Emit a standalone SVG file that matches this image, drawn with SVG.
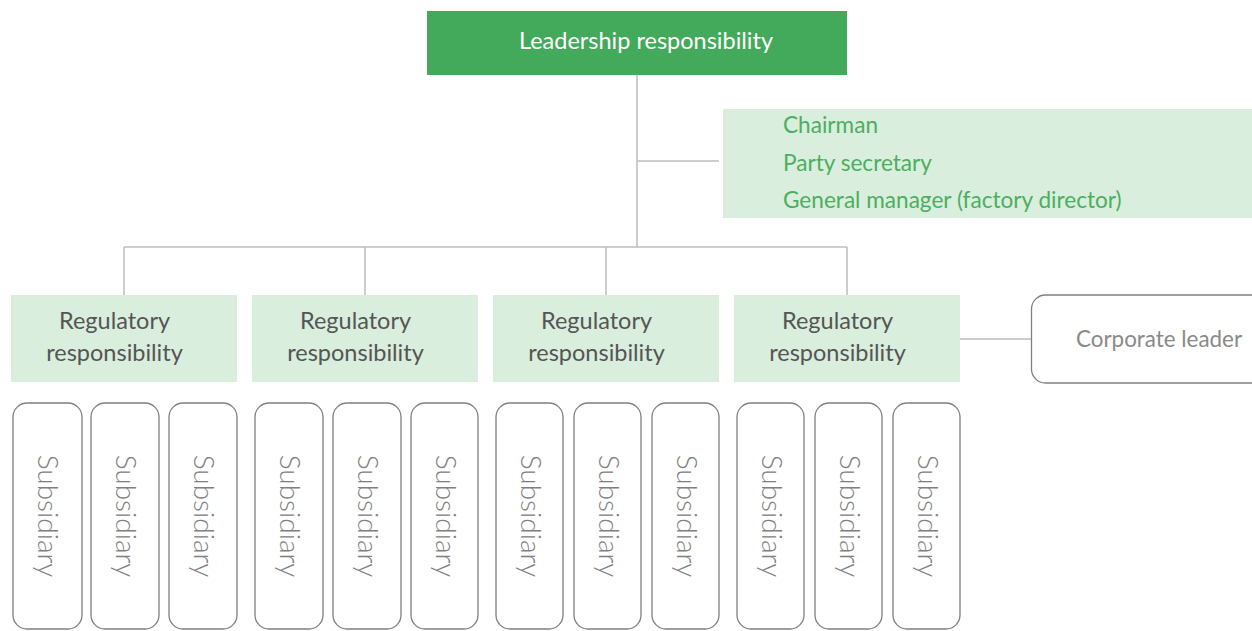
<svg xmlns="http://www.w3.org/2000/svg" width="1252" height="631" viewBox="0 0 1252 631">
<style>
text{font-family:"Source Sans Pro","Lato","Noto Sans",sans-serif}
.line{stroke:#bdbdbd;stroke-width:1.5;fill:none}
.reg{fill:#d9eedd}
.regt{fill:#555;font-size:23.5px;text-anchor:middle}
.sub{fill:#fff;stroke:#808080;stroke-width:1.3}
.subt{fill:#808080;font-size:28px;font-weight:300;text-anchor:middle}
.info{fill:#4cae5f;font-size:22.6px}
</style>
<rect width="1252" height="631" fill="#fff"/>
<g id="connectors">
<line class="line" x1="637" y1="75" x2="637" y2="247"/>
<line class="line" x1="637" y1="161" x2="719" y2="161"/>
<line class="line" x1="124" y1="247" x2="847" y2="247"/>
<line class="line" x1="124" y1="247" x2="124" y2="295"/>
<line class="line" x1="365" y1="247" x2="365" y2="295"/>
<line class="line" x1="606" y1="247" x2="606" y2="295"/>
<line class="line" x1="847" y1="247" x2="847" y2="295"/>
<line class="line" x1="960" y1="339" x2="1031" y2="339"/>
</g>
<g id="leadership">
<rect x="427" y="11" width="420" height="64" fill="#43a95b"/>
<text x="646" y="49" fill="#fff" font-size="23.5" text-anchor="middle">Leadership responsibility</text>
</g>
<g id="roles">
<rect x="723" y="109" width="529" height="109" fill="#d9eedd"/>
<text class="info" x="783" y="133">Chairman</text>
<text class="info" x="783" y="171">Party secretary</text>
<text class="info" x="783" y="208">General manager (factory director)</text>
</g>
<g id="reg1"><rect class="reg" x="11" y="295" width="226" height="87"/><text class="regt" x="114.5" y="329">Regulatory</text><text class="regt" x="114.5" y="361">responsibility</text></g>
<g id="reg2"><rect class="reg" x="252" y="295" width="226" height="87"/><text class="regt" x="355.5" y="329">Regulatory</text><text class="regt" x="355.5" y="361">responsibility</text></g>
<g id="reg3"><rect class="reg" x="493" y="295" width="226" height="87"/><text class="regt" x="596.5" y="329">Regulatory</text><text class="regt" x="596.5" y="361">responsibility</text></g>
<g id="reg4"><rect class="reg" x="734" y="295" width="226" height="87"/><text class="regt" x="837.5" y="329">Regulatory</text><text class="regt" x="837.5" y="361">responsibility</text></g>
<g id="corporate-leader">
<rect x="1031.5" y="295" width="240" height="88" rx="14" fill="#fff" stroke="#808080" stroke-width="1.3"/>
<text x="1076" y="347" fill="#8a8a8a" font-size="22.4">Corporate leader</text>
</g>
<g id="sub1"><rect class="sub" x="13" y="403" width="69" height="226" rx="14"/><text class="subt" transform="translate(38,516) rotate(90)">Subsidiary</text></g>
<g id="sub2"><rect class="sub" x="91" y="403" width="68" height="226" rx="14"/><text class="subt" transform="translate(116,516) rotate(90)">Subsidiary</text></g>
<g id="sub3"><rect class="sub" x="169" y="403" width="68" height="226" rx="14"/><text class="subt" transform="translate(194,516) rotate(90)">Subsidiary</text></g>
<g id="sub4"><rect class="sub" x="255" y="403" width="68" height="226" rx="14"/><text class="subt" transform="translate(280,516) rotate(90)">Subsidiary</text></g>
<g id="sub5"><rect class="sub" x="333" y="403" width="68" height="226" rx="14"/><text class="subt" transform="translate(358,516) rotate(90)">Subsidiary</text></g>
<g id="sub6"><rect class="sub" x="411" y="403" width="67" height="226" rx="14"/><text class="subt" transform="translate(436,516) rotate(90)">Subsidiary</text></g>
<g id="sub7"><rect class="sub" x="496" y="403" width="67" height="226" rx="14"/><text class="subt" transform="translate(521,516) rotate(90)">Subsidiary</text></g>
<g id="sub8"><rect class="sub" x="574" y="403" width="67" height="226" rx="14"/><text class="subt" transform="translate(599,516) rotate(90)">Subsidiary</text></g>
<g id="sub9"><rect class="sub" x="652" y="403" width="67" height="226" rx="14"/><text class="subt" transform="translate(677,516) rotate(90)">Subsidiary</text></g>
<g id="sub10"><rect class="sub" x="737" y="403" width="67" height="226" rx="14"/><text class="subt" transform="translate(762,516) rotate(90)">Subsidiary</text></g>
<g id="sub11"><rect class="sub" x="815" y="403" width="67" height="226" rx="14"/><text class="subt" transform="translate(840,516) rotate(90)">Subsidiary</text></g>
<g id="sub12"><rect class="sub" x="893" y="403" width="67" height="226" rx="14"/><text class="subt" transform="translate(918,516) rotate(90)">Subsidiary</text></g>
</svg>
